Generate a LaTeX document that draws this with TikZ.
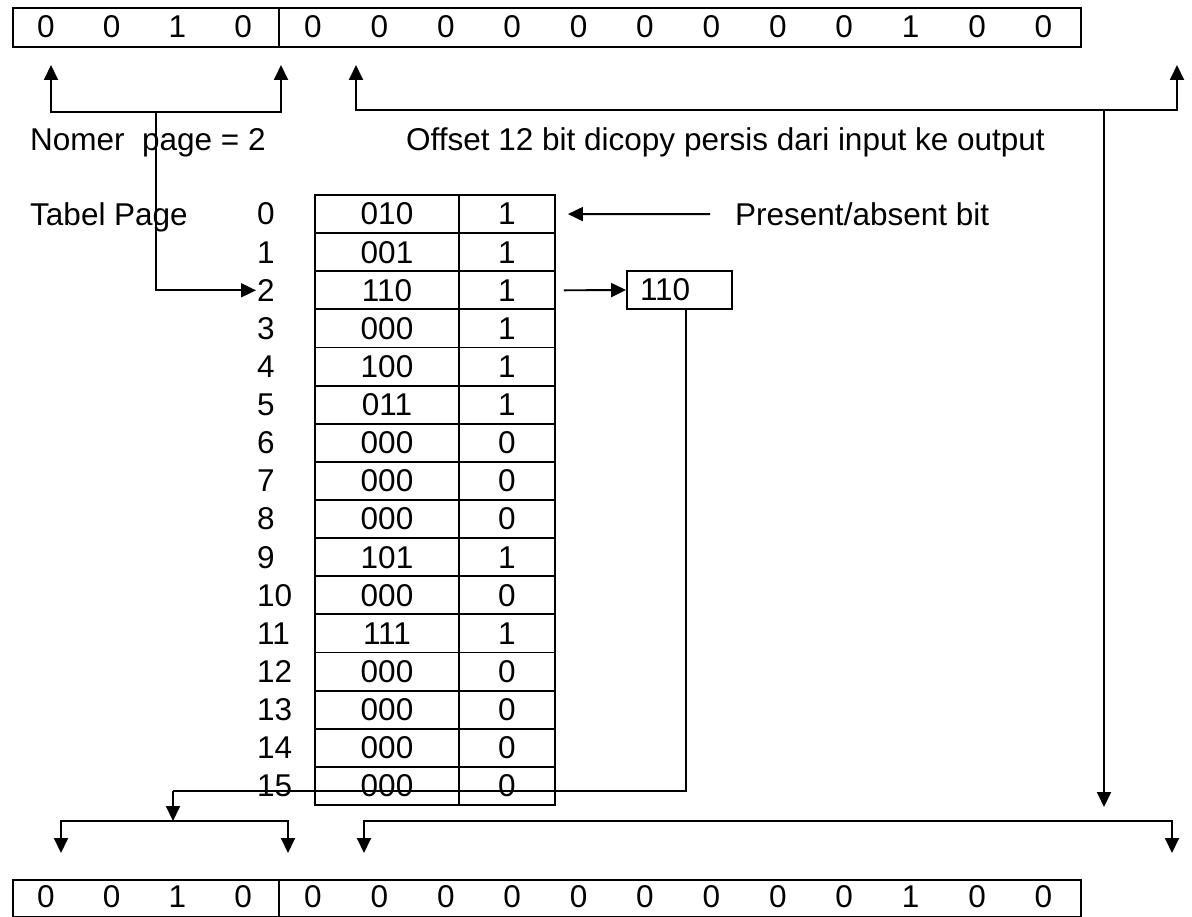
\documentclass[tikz,border=0pt]{standalone}
\usepackage{fontspec}
\setmainfont{Liberation Sans}
\usetikzlibrary{arrows.meta}

\begin{document}
\begin{tikzpicture}[
  x=1pt, y=-1pt,
  txt/.style={font=\fontsize{31.5}{36}\selectfont, inner sep=0pt},
  frame/.style={draw, line width=1.9pt},
  cell/.style={txt, draw, line width=1.9pt, minimum height=38.125pt},
  conn/.style={line width=1.9pt},
  thinconn/.style={line width=1.3pt},
  arr/.style={-{Triangle[width=14pt,length=15pt]}},
  biarr/.style={{Triangle[width=14pt,length=15pt]}-{Triangle[width=14pt,length=15pt]}}
]
\fill[white] (0,0) rectangle (1192,917);
\useasboundingbox (0,0) rectangle (1192,917);

% input address register (page number | offset)
\node[frame, inner sep=0pt, minimum width=1068pt, minimum height=39pt, anchor=north west] (inreg) at (12,7) {};
\draw[frame] (279,7) -- (279,46);
% output address register
\node[frame, inner sep=0pt, minimum width=1068pt, minimum height=37pt, anchor=north west] (outreg) at (12,879) {};
\draw[frame] (279,879) -- (279,916);

\foreach \v [count=\i] in {0,0,1,0} {
  \node[txt] (in\i) at ({46+65.7*(\i-1)},26.5) {\v};
  \node[txt] (out\i) at ({46+65.7*(\i-1)},897) {\v};
}
\foreach \v [count=\i from 5] in {0,0,0,0,0,0,0,0,0,1,0,0} {
  \node[txt] (in\i) at ({313+66.4*(\i-5)},26.5) {\v};
  \node[txt] (out\i) at ({313+66.4*(\i-5)},897) {\v};
}

% labels
\node[txt, anchor=base west] (nomer) at (30,151) {Nomer~~page = 2};
\node[txt, anchor=base west] (offset) at (406,151) {Offset 12 bit dicopy persis dari input ke output};
\node[txt, anchor=base west] (tabel) at (30,225.4) {Tabel Page};
\node[txt, anchor=base west] (pres) at (735,225.4) {Present/absent bit};

% page table
\foreach \fv/\pv [count=\i from 0] in {010/1,001/1,110/1,000/1,100/1,011/1,000/0,000/0,000/0,101/1,000/0,111/1,000/0,000/0,000/0,000/0} {
  \pgfmathsetmacro\yy{195+38.125*(\i+0.5)}
  \node[cell, minimum width=144pt] (fr\i) at (387,\yy) {\fv};
  \node[cell, minimum width=96pt] (pr\i) at (507,\yy) {\pv};
  \node[txt, anchor=west] (l\i) at (257,\yy) {\i};
}

% selected frame number
\node[txt, draw, line width=1.9pt, minimum height=38pt, text width=79pt, inner xsep=13pt, align=left] (b110) at (679.5,290) {110};

% bracket points
\coordinate (ulT) at (51,65);   \coordinate (ul) at (51,112);
\coordinate (urT) at (281,65);  \coordinate (ur) at (281,112);
\coordinate (pg) at (156,112);
\coordinate (olT) at (356,65);  \coordinate (ol) at (356,110);
\coordinate (orT) at (1177,65); \coordinate (or) at (1177,110);
\coordinate (ov) at (1104,110); \coordinate (ovB) at (1104,807);
\coordinate (fl) at (173,791);  \coordinate (flB) at (173,821);
\coordinate (bl1) at (61,821);  \coordinate (bl1T) at (61,853);
\coordinate (bl2) at (288,821); \coordinate (bl2T) at (288,853);
\coordinate (br1) at (364,821); \coordinate (br1T) at (364,853);
\coordinate (br2) at (1172,821);\coordinate (br2T) at (1172,853);

% page number bits -> table index
\draw[conn, biarr] (ulT) -- (ul) -- (ur) -- (urT);
\draw[conn, arr] (pg) |- ([xshift=-1pt]l2.west);

% offset bits copied straight through
\draw[conn, biarr] (olT) -- (ol) -- (or) -- (orT);
\draw[conn, arr] (ov) -- (ovB);
\draw[conn, biarr] (br1T) -- (br1) -- (br2) -- (br2T);

% present/absent bit
\draw[conn, arr] ([xshift=-25pt]pres.west) -- ([xshift=12pt]pr0.east);

% table entry -> frame number -> output register
\draw[conn, arr] ([xshift=8pt]pr2.east) -- (b110.west);
\draw[thinconn] ([xshift=6.5pt]b110.south) |- (fl);
\draw[conn, arr] (fl) -- (flB);
\draw[conn, biarr] (bl1T) -- (bl1) -- (bl2) -- (bl2T);
\end{tikzpicture}
\end{document}
